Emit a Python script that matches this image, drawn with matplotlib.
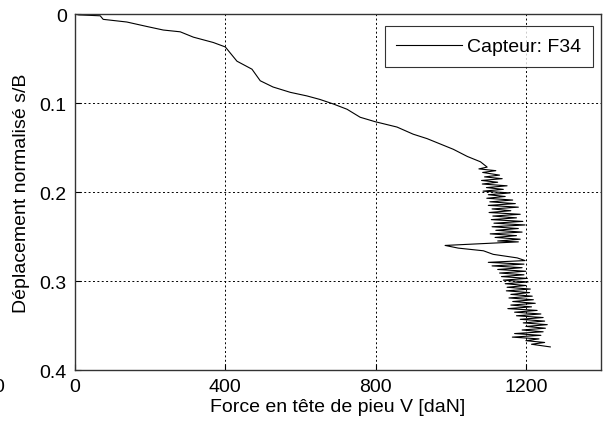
import matplotlib
matplotlib.use('Agg')
import matplotlib.pyplot as plt

plt.rcParams['font.family'] = ['Liberation Sans', 'DejaVu Sans']

# force en tete de pieu [daN] / deplacement normalise s/B, releve capteur F34
force = [0, 10, 67, 75, 138, 191, 235, 280, 315, 368, 400, 431, 471, 493, 527,
         573, 617, 652, 687, 724, 759, 799, 857, 900, 937, 972, 1007, 1044, 1079, 1097,
         1075, 1120, 1085, 1130, 1090, 1137, 1082, 1125, 1084, 1150, 1095, 1140, 1086,
         1158, 1100, 1145, 1096, 1165, 1104, 1172, 1100, 1180, 1110, 1160, 1102, 1185,
         1112, 1175, 1108, 1192, 1115, 1198, 1110, 1180, 1120, 1190, 1105, 1175, 1118,
         1185, 1125, 1180,
         985, 1020, 1087, 1113, 1177, 1198,
         1100, 1195, 1110, 1190, 1125, 1200, 1130, 1195, 1135, 1204, 1140, 1206, 1145,
         1200, 1150, 1212, 1148, 1210, 1160, 1217, 1155, 1220, 1165, 1225, 1160, 1215,
         1152, 1230, 1170, 1240, 1175, 1246, 1185, 1250, 1193, 1257, 1200, 1252, 1190,
         1246, 1170, 1240, 1164, 1235, 1200, 1250, 1215, 1265]
depl = [0, 0.001, 0.002, 0.006, 0.009, 0.014, 0.018, 0.020, 0.026, 0.032, 0.037, 0.053,
        0.062, 0.075, 0.082, 0.088, 0.092, 0.096, 0.101, 0.107, 0.116, 0.121, 0.127,
        0.135, 0.140, 0.146, 0.152, 0.160, 0.166, 0.172,
        0.174, 0.176, 0.178, 0.181, 0.183, 0.185, 0.187, 0.189, 0.191, 0.193, 0.195,
        0.197, 0.199, 0.201, 0.203, 0.205, 0.207, 0.209, 0.211, 0.213, 0.215, 0.217,
        0.219, 0.221, 0.223, 0.225, 0.227, 0.229, 0.231, 0.233, 0.235, 0.237, 0.239,
        0.241, 0.243, 0.245, 0.247, 0.249, 0.251, 0.253, 0.255, 0.256,
        0.260, 0.263, 0.266, 0.270, 0.274, 0.277,
        0.279, 0.281, 0.283, 0.285, 0.287, 0.289, 0.291, 0.293, 0.295, 0.297, 0.299,
        0.301, 0.303, 0.305, 0.307, 0.309, 0.311, 0.313, 0.315, 0.317, 0.319, 0.321,
        0.323, 0.325, 0.327, 0.329, 0.331, 0.333, 0.335, 0.337, 0.339, 0.341, 0.343,
        0.345, 0.347, 0.349, 0.351, 0.353, 0.355, 0.357, 0.359, 0.361, 0.363, 0.365,
        0.367, 0.369, 0.371, 0.374]

xticks = [0, 400, 800, 1200]
yticks = [0, 0.1, 0.2, 0.3, 0.4]

fig = plt.figure(figsize=(6.03, 4.35), dpi=100)
ax = fig.add_axes([0.1244, 0.147, 0.8723, 0.8185])

ax.plot(force, depl, color='black', lw=0.8, label='Capteur: F34')

ax.set_xlim(0, 1400)
ax.set_ylim(0.4, 0)
ax.set_xticks(xticks)
ax.set_yticks(yticks)
ax.set_yticklabels(['0', '0.1', '0.2', '0.3', '0.4'])
ax.tick_params(direction='in', length=4, labelsize=14, pad=6, top=False, right=False)

ax.grid(True, color='black', linestyle=(0, (2, 2.5)), lw=0.7)
for s in ax.spines.values():
    s.set_color('#333333')
    s.set_linewidth(1.0)

ax.set_xlabel('Force en tête de pieu V [daN]', fontsize=14, labelpad=2)
ax.set_ylabel('Déplacement normalisé s/B', fontsize=14, labelpad=7)

leg = ax.legend(loc='upper right', bbox_to_anchor=(0.985, 0.966), fontsize=14,
                frameon=True, fancybox=False, handlelength=3.4, borderaxespad=0,
                handletextpad=0.25, borderpad=0.6)
leg.get_frame().set_edgecolor('black')
leg.get_frame().set_linewidth(0.8)

# bout de graduation coupe du graphique voisin (present sur l'original)
fig.text(4 / 603, 1 - 388 / 435, '0', fontsize=14, ha='right', va='center')

fig.savefig('out.png', dpi=100)
